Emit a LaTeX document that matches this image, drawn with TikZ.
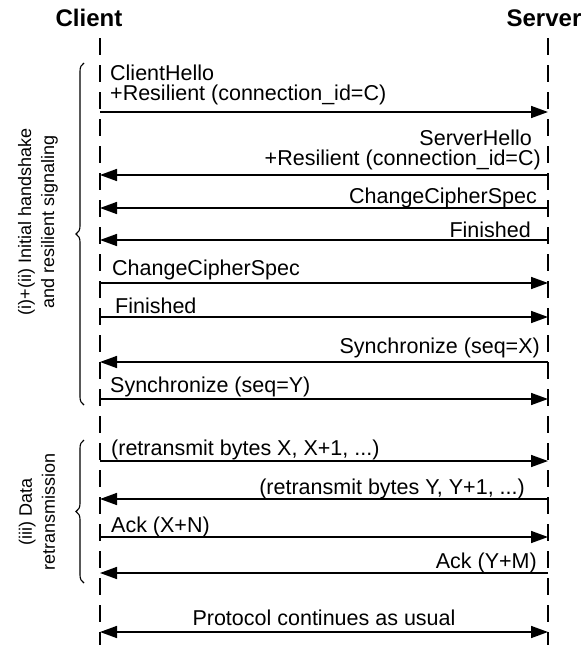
\documentclass[tikz,border=0pt]{standalone}
\usepackage{fontspec}
\setmainfont{Liberation Sans}
\usetikzlibrary{arrows.meta,decorations.pathreplacing}
\begin{document}
\begin{tikzpicture}[x=1pt,y=1pt,
  tip/.tip={Triangle[length=17pt,width=12pt]},
  msg/.style={line width=1.6pt, -tip},
  lifeline/.style={line width=1.5pt, dash pattern=on 17pt off 10pt},
  lbl/.style={font=\fontsize{21.5}{24}\selectfont, inner sep=0pt},
  head/.style={font=\fontsize{24}{28}\selectfont\bfseries, inner sep=0pt},
  phase/.style={font=\fontsize{18}{23}\selectfont, align=center, rotate=90, inner sep=0pt},
  bracket/.style={line width=1.1pt, decorate, decoration={brace, amplitude=8pt}}]
\useasboundingbox (0,0) rectangle (587,-645);

% participants
\node[head, anchor=base] (client) at (89,-26) {Client};
\node[head, anchor=base] (server) at (544,-26) {Server};

% lifelines
\coordinate (ctop) at (100,-38);
\coordinate (cbot) at (100,-645);
\coordinate (stop) at (548,-38);
\coordinate (sbot) at (548,-645);
\draw[lifeline] (ctop) -- (cbot);
\draw[lifeline] (stop) -- (sbot);

% message anchor points on both lifelines
\foreach \n/\y in {m1/112, m2/175, m3/208, m4/240, m5/283, m6/317, m7/362,
                   m8/399, m9/461, m10/499, m11/537, m12/573, m13/632} {
  \coordinate (\n c) at (100,-\y);
  \coordinate (\n s) at (548,-\y);
}

% messages
\draw[msg] (m1c) -- (m1s);
\draw[msg] (m2s) -- (m2c);
\draw[msg] (m3s) -- (m3c);
\draw[msg] (m4s) -- (m4c);
\draw[msg] (m5c) -- (m5s);
\draw[msg] (m6c) -- (m6s);
\draw[msg] (m7s) -- (m7c);
\draw[msg] (m8c) -- (m8s);
\draw[msg] (m9c) -- (m9s);
\draw[msg] (m10s) -- (m10c);
\draw[msg] (m11c) -- (m11s);
\draw[msg] (m12s) -- (m12c);
\draw[msg, tip-tip] (m13c) -- (m13s);

% message labels
\node[lbl, anchor=base west] (t1a) at (110,-80) {ClientHello};
\node[lbl, anchor=base west] (t1b) at (110,-100) {+Resilient (connection\_id=C)};
\node[lbl, anchor=base east] (t2a) at (532,-145) {ServerHello};
\node[lbl, anchor=base east] (t2b) at (541,-165) {+Resilient (connection\_id=C)};
\node[lbl, anchor=base east] (t3) at (537,-203) {ChangeCipherSpec};
\node[lbl, anchor=base east] (t4) at (531,-237) {Finished};
\node[lbl, anchor=base west] (t5) at (112,-275) {ChangeCipherSpec};
\node[lbl, anchor=base west] (t6) at (115,-313) {Finished};
\node[lbl, anchor=base east] (t7) at (540,-353) {Synchronize (seq=X)};
\node[lbl, anchor=base west] (t8) at (110,-392) {Synchronize (seq=Y)};
\node[lbl, anchor=base west] (t9) at (111,-455) {(retransmit bytes X, X+1, ...)};
\node[lbl, anchor=base east] (t10) at (525,-494) {(retransmit bytes Y, Y+1, ...)};
\node[lbl, anchor=base west] (t11) at (111,-532) {Ack (X+N)};
\node[lbl, anchor=base east] (t12) at (537,-568) {Ack (Y+M)};
\node[lbl, anchor=base] (t13) at (324,-625) {Protocol continues as usual};

% phase brackets
\coordinate (b1top) at (84,-63);
\coordinate (b1bot) at (84,-405);
\coordinate (b2top) at (84,-440);
\coordinate (b2bot) at (84,-583);
\draw[bracket] (b1bot) -- (b1top);
\draw[bracket] (b2bot) -- (b2top);
\node[phase] (p1) at (38,-222) {(i)+(ii) Initial handshake\\and resilient signaling};
\node[phase] (p2) at (37,-512) {(iii) Data\\retransmission};
\end{tikzpicture}
\end{document}
